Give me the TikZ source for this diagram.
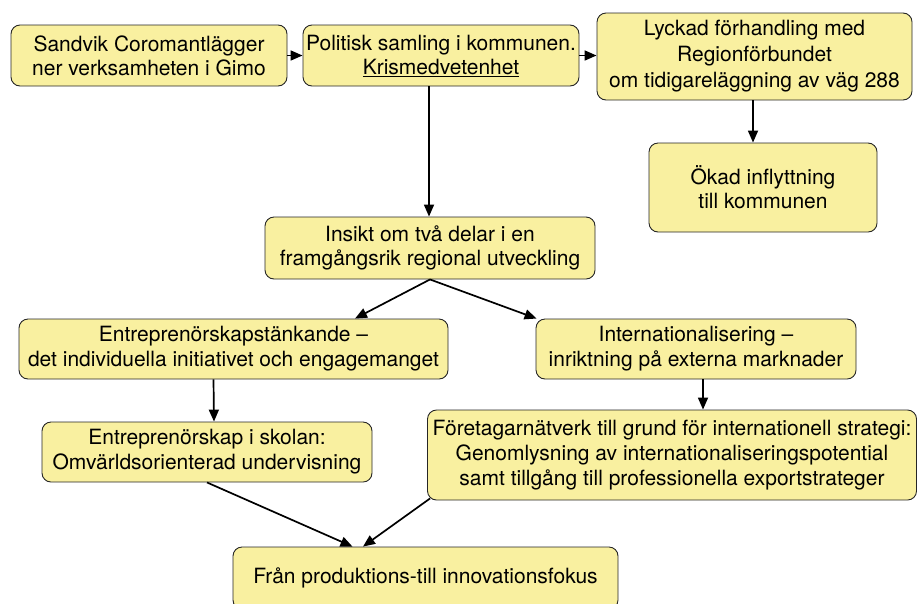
\documentclass[tikz,border=0pt]{standalone}
\usepackage{fontspec}
\setmainfont{TeX Gyre Heros}
\usepackage{xcolor}
\usetikzlibrary{arrows.meta}
\definecolor{boxyellow}{RGB}{249,240,160}
\tikzset{
    flow-box/.style = {draw=black!85, fill=boxyellow, line width=0.9pt, rectangle, rounded corners=9pt, align=center, inner sep=2pt, font=\fontsize{21}{24}\selectfont},
    flow-arrow/.style = {-{Triangle[length=12pt,width=10pt]}, line width=1.7pt},
}

\begin{document}
\begin{tikzpicture}[x=1pt,y=-1pt]
\useasboundingbox (0,0) rectangle (917,603);
\clip (0,0) rectangle (917,603);
% top row
\node[flow-box, minimum width=276pt, minimum height=61pt] (sandvik) at (149,55.5) {Sandvik Coromantlägger\\ner verksamheten i Gimo};
\node[flow-box, minimum width=276pt, minimum height=61pt] (politisk) at (441,55.5) {Politisk samling i kommunen.\\\underline{Krismedvetenhet}};
\node[flow-box, minimum width=315pt, minimum height=87pt, font=\fontsize{21}{26}\selectfont] (lyckad) at (754.5,56.5) {Lyckad förhandling med\\Regionförbundet\\om tidigareläggning av väg 288};
\node[flow-box, minimum width=228pt, minimum height=89pt] (inflyttning) at (763,187.5) {Ökad inflyttning\\till kommunen};
% middle
\node[flow-box, minimum width=330pt, minimum height=62pt] (insikt) at (430,248) {Insikt om två delar i en\\framgångsrik regional utveckling};
\node[flow-box, minimum width=429pt, minimum height=60pt, font=\fontsize{21}{25}\selectfont] (entre) at (233.5,349) {Entreprenörskapstänkande –\\det individuella initiativet och engagemanget};
\node[flow-box, minimum width=320pt, minimum height=60pt, font=\fontsize{21}{25}\selectfont] (intern) at (696,349) {Internationalisering –\\inriktning på externa marknader};
\node[flow-box, minimum width=330pt, minimum height=60pt, font=\fontsize{21}{25}\selectfont] (skolan) at (207,452) {Entreprenörskap i skolan:\\Omvärldsorienterad undervisning};
\node[flow-box, minimum width=489pt, minimum height=90pt, font=\fontsize{21}{25}\selectfont] (foretag) at (672,455) {Företagarnätverk till grund för internationell strategi:\\Genomlysning av internationaliseringspotential\\samt tillgång till professionella exportstrateger};
% bottom
\node[flow-box, minimum width=385pt, minimum height=62pt] (fokus) at (425.5,578) {Från produktions-till innovationsfokus};

\draw[flow-arrow] (sandvik) -- (politisk);
\draw[flow-arrow] (politisk.east) -- (lyckad.west |- politisk.east);
\draw[flow-arrow] ([xshift=-12pt]politisk.south) -- ([xshift=-1pt]insikt.north);
\draw[flow-arrow] ([xshift=-1.5pt]lyckad.south) -- ([xshift=-10pt]inflyttning.north);
\draw[flow-arrow] (insikt.south) -- ([xshift=121.5pt]entre.north);
\draw[flow-arrow] (insikt.south) -- ([xshift=1pt]intern.north west);
\draw[flow-arrow] ([xshift=-20pt]entre.south) -- ([xshift=7pt]skolan.north);
\draw[flow-arrow] ([xshift=7pt]intern.south) -- ([xshift=31pt]foretag.north);
\draw[flow-arrow] (skolan.south) -- ([xshift=-73pt]fokus.north);
\draw[flow-arrow] ([shift={(3pt,2pt)}]foretag.south west) -- ([xshift=-62.5pt]fokus.north);
\end{tikzpicture}
\end{document}
